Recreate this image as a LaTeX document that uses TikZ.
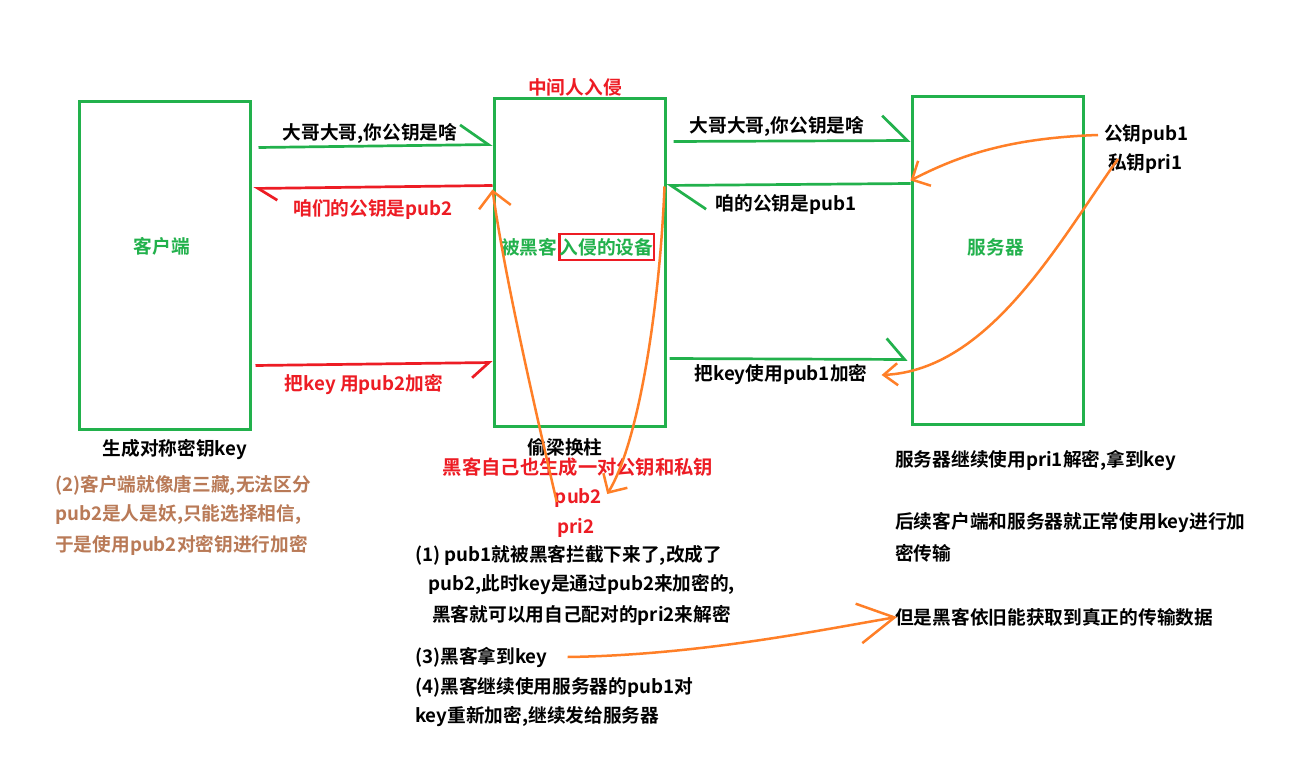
\documentclass[tikz,border=0pt]{standalone}
\usepackage{fontspec}
\usepackage{xcolor}
\usepackage{tikz}
\usetikzlibrary{arrows.meta, positioning}
\newfontfamily\cjkbold{Noto Sans CJK SC Bold}
\definecolor{paintgreen}{HTML}{22B14C}
\definecolor{paintred}{HTML}{ED1C24}
\definecolor{paintorange}{HTML}{FF7F27}
\definecolor{paintbrown}{HTML}{B97A57}

\begin{document}
\begin{tikzpicture}[
    x=1pt, y=-1pt,
    box/.style={rectangle, draw=paintgreen, line width=3pt, minimum width=171pt, minimum height=327pt, inner sep=0pt},
    txt/.style={font=\cjkbold\fontsize{18.7}{30}\selectfont, inner sep=0pt, text=black},
    lline/.style={txt, anchor=west},
    garrow/.style={paintgreen, line width=2.7pt},
    rarrow/.style={paintred, line width=2.7pt},
    harp/.style 2 args={-{Straight Barb[harpoon, length=#1, width=#2]}},
    harpsw/.style 2 args={-{Straight Barb[harpoon, swap, length=#1, width=#2]}},
    oarrow/.style={paintorange, line width=2.5pt, -{Straight Barb[length=14pt, width=28pt]}},
]
    \fill[white] (0,0) rectangle (1290,767);
    \useasboundingbox (0,0) rectangle (1290,767);

    % the three boxes
    \node[box] (client) at (164.5,265.5) {};
    \node[box] (mitm) at (579.5,262.5) {};
    \node[box] (server) at (997.5,260.5) {};

    \node[txt, text=paintgreen] (clientlbl) at (162,246) {客户端};
    \node[txt, text=paintgreen] (serverlbl) at (996,247) {服务器};
    \node[txt, draw=paintred, line width=2.5pt, inner xsep=0.5pt, inner ysep=4pt] (hackbox) at (606.5,247)
        {\textcolor{paintgreen}{入侵的设备}};
    \node[txt, text=paintgreen, left=0.5pt of hackbox] (hackpre) {被黑客};
    \node[txt, text=paintred] (mitmhdr) at (575,87) {中间人入侵};

    % client <-> mitm
    \draw[garrow, harp={28pt}{40pt}] ([xshift=7pt,yshift=-47pt]client.north east) -- ([yshift=-47pt]mitm.north west);
    \draw[rarrow, harp={19pt}{24pt}] ([yshift=-88pt]mitm.north west) -- ([xshift=2pt,yshift=-88pt]client.north east);
    \draw[rarrow, harpsw={17pt}{30pt}] ([xshift=4pt,yshift=-265pt]client.north east) -- ([yshift=-265pt]mitm.north west);
    \node[txt] (askl) at (370,133) {大哥大哥,你公钥是啥};
    \node[txt, text=paintred] (fakepub) at (373,210) {咱们的公钥是pub2};
    \node[txt, text=paintred] (keypub2) at (364,385) {把key 用pub2加密};

    % mitm <-> server
    \draw[garrow, harp={25pt}{50pt}] ([xshift=7pt,yshift=-44pt]mitm.north east) -- ([yshift=-45pt]server.north west);
    \draw[garrow, harp={35pt}{48pt}] ([yshift=-88pt]server.north west) -- ([yshift=-88pt]mitm.north east);
    \draw[garrow, harp={18pt}{42pt}] ([xshift=3pt,yshift=-261pt]mitm.north east) -- ([xshift=-3pt,yshift=-264pt]server.north west);
    \node[txt] (askr) at (777,126) {大哥大哥,你公钥是啥};
    \node[txt] (realpub) at (786,205) {咱的公钥是pub1};
    \node[txt] (keypub1) at (781,375) {把key使用pub1加密};

    % server keys
    \node[lline] (srvpub) at (1104,135) {公钥pub1};
    \node[lline] (srvpri) at (1108,164) {私钥pri1};

    % below the boxes
    \node[txt] (genkey) at (175,450) {生成对称密钥key};
    \node[lline, text=paintbrown] (note2a) at (55,485) {(2)客户端就像唐三藏,无法区分};
    \node[lline, text=paintbrown] (note2b) at (55,515) {pub2是人是妖,只能选择相信,};
    \node[lline, text=paintbrown] (note2c) at (55,545) {于是使用pub2对密钥进行加密};

    \node[txt] (swap) at (565,447) {偷梁换柱};
    \node[txt, text=paintred, font=\cjkbold\fontsize{19.3}{30}\selectfont] (hackgen) at (578,467) {黑客自己也生成一对公钥和私钥};
    \node[txt, text=paintred] (pub2) at (578.5,498) {pub2};
    \node[txt, text=paintred] (pri2) at (576,528) {pri2};

    \node[lline] (hk1a) at (415,555) {(1) pub1就被黑客拦截下来了,改成了};
    \node[lline] (hk1b) at (428,585) {pub2,此时key是通过pub2来加密的,};
    \node[lline] (hk1c) at (432,615) {黑客就可以用自己配对的pri2来解密};
    \node[lline] (hk3) at (415,657) {(3)黑客拿到key};
    \node[lline] (hk4a) at (415,687) {(4)黑客继续使用服务器的pub1对};
    \node[lline] (hk4b) at (415,717) {key重新加密,继续发给服务器};

    \node[lline] (srvdec) at (895,460) {服务器继续使用pri1解密,拿到key};
    \node[lline] (aftera) at (895,523) {后续客户端和服务器就正常使用key进行加};
    \node[lline] (afterb) at (895,553) {密传输};
    \node[lline] (hkdata) at (895,617) {但是黑客依旧能获取到真正的传输数据};

    % orange hand-drawn curves
    \draw[oarrow] ([xshift=-6pt]srvpub.west) .. controls (1010,138) and (960,155) .. ([yshift=-85pt]server.north west);
    \draw[oarrow, -{Straight Barb[length=14pt, width=22pt]}] ([xshift=10pt,yshift=5pt]srvpri.west) .. controls (1060,240) and (990,370) .. ([xshift=14pt]keypub1.east);
    \draw[oarrow, -{Straight Barb[length=16pt, width=32pt]}] ([xshift=2pt,yshift=-4pt]pub2.west) .. controls (540,430) and (505,280) .. ([yshift=-92pt]mitm.north west);
    \draw[oarrow] ([xshift=-2pt,yshift=-89pt]mitm.north east) .. controls (660,300) and (640,440) .. ([xshift=5pt,yshift=4pt]pub2.east);
    \draw[oarrow, -{Straight Barb[length=36pt, width=40pt]}] ([xshift=20pt]hk3.east) .. controls (700,655) and (820,630) .. ([xshift=2pt]hkdata.west);
\end{tikzpicture}
\end{document}
